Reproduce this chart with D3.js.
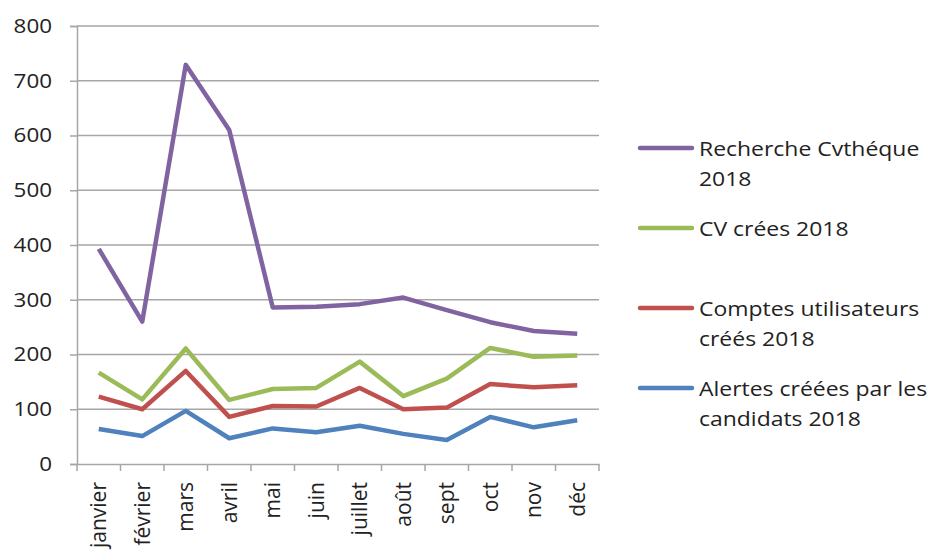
<!DOCTYPE html>
<html><head><meta charset="utf-8">
<script src="https://cdn.jsdelivr.net/npm/d3@7"></script>
<style>
body{margin:0;background:#fff;}
text{font-family:"Open Sans",sans-serif;fill:#222;}
</style></head>
<body><svg id="c" width="931" height="554"></svg>
<script>
const months = ["janvier","février","mars","avril","mai","juin","juillet","août","sept","oct","nov","déc"];
const recherche = [393,260,729,610,286,287,292,304,281,259,243,238];
const cvCrees = [167,118,211,117,137,139,187,124,156,212,196,198];
const comptes = [123,100,170,86,106,105,139,100,103,146,140,144];
const alertes = [64,51,97,47,65,58,70,55,44,86,67,80];
const yTicks = [0,100,200,300,400,500,600,700,800];
const seriesNames = [["Recherche Cvthéque","2018"],["CV crées 2018"],["Comptes utilisateurs","créés 2018"],["Alertes créées par les","candidats 2018"]];
const seriesColors = ["#8064A2","#9BBB59","#C0504D","#4F81BD"];
const seriesData = [recherche, cvCrees, comptes, alertes];

(function(){
const svg = d3.select("#c");
const pLeft = 77, pRight = 599, pTop = 26, pBottom = 464;
const sx = 1.12;
const x = d3.scaleBand().domain(months).range([pLeft, pRight]);
const y = d3.scaleLinear().domain([0, 800]).range([pBottom, pTop]);
const grey = "#a6a6a6";

svg.append("g").selectAll("line").data(yTicks.filter(d=>d>0)).join("line")
  .attr("x1", pLeft).attr("x2", pRight).attr("y1", d=>y(d)).attr("y2", d=>y(d))
  .attr("stroke", grey).attr("stroke-width", 1.5);

const ya = svg.append("g").attr("transform", `translate(${pLeft},0)`)
  .call(d3.axisLeft(y).tickValues(yTicks).tickSize(7).tickPadding(18).tickFormat(d3.format("d")));
ya.select(".domain").attr("stroke", grey).attr("stroke-width", 1.5);
ya.selectAll(".tick line").attr("stroke", grey).attr("stroke-width", 1.5);
ya.selectAll(".tick text").attr("font-size", 20).attr("font-family", "Open Sans").attr("fill", "#222")
  .attr("x", -25 / sx).attr("transform", `scale(${sx},1)`);

const xa = svg.append("g").attr("transform", `translate(0,${pBottom})`)
  .call(d3.axisBottom(x).tickSize(0).tickSizeOuter(0));
xa.select(".domain").attr("stroke", grey).attr("stroke-width", 1.5);
xa.selectAll(".tick line").remove();
xa.selectAll(".tick text").attr("font-size", 21).attr("font-family", "Open Sans").attr("fill", "#222")
  .attr("transform", "rotate(-90)").attr("text-anchor", "end").attr("x", -18).attr("y", 0).attr("dy", "0.35em");
const bounds = months.map(m => x(m)).concat([pRight]);
svg.append("g").selectAll("line").data(bounds).join("line")
  .attr("x1", d=>d).attr("x2", d=>d).attr("y1", pBottom).attr("y2", pBottom+7)
  .attr("stroke", grey).attr("stroke-width", 1.5);

const line = d3.line().x((d,i)=>x(months[i]) + x.bandwidth()/2).y(d=>y(d));
seriesData.forEach((s, k) => {
  svg.append("path").datum(s).attr("d", line).attr("fill","none")
    .attr("stroke", seriesColors[k]).attr("stroke-width", 4.5).attr("stroke-linejoin","round");
});

const legY = [148, 228, 308, 388];
seriesNames.forEach((lines, k) => {
  const g = svg.append("g");
  g.append("line").attr("x1", 640).attr("x2", 692).attr("y1", legY[k]).attr("y2", legY[k])
    .attr("stroke", seriesColors[k]).attr("stroke-width", 4.5).attr("stroke-linecap","round");
  lines.forEach((t, j) => {
    g.append("text").attr("transform", `translate(699,${legY[k] + 8 + j*30}) scale(${sx},1)`)
      .attr("font-size", 20.5).text(t);
  });
});
})();
</script></body></html>
